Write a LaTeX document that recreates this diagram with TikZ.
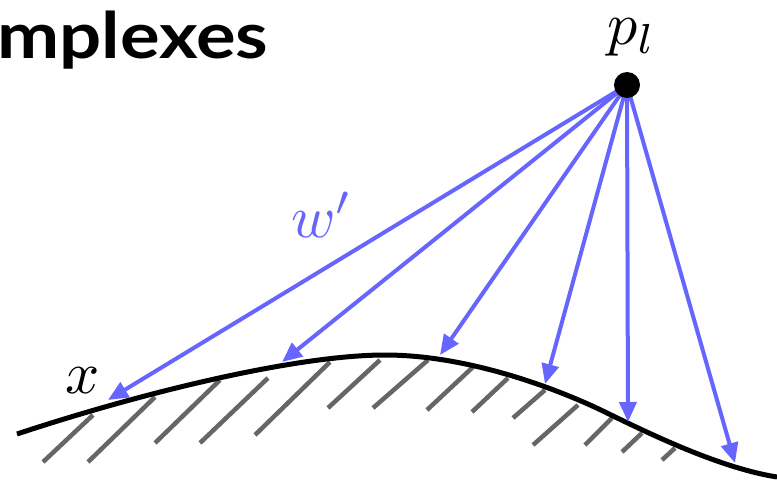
\documentclass[tikz,border=0pt]{standalone}
\usepackage{fontspec}
\newfontfamily\titlefont{Lato}
\usetikzlibrary{arrows.meta}
\definecolor{ablue}{HTML}{6666FF}
\definecolor{hgray}{HTML}{666666}
\tikzset{
  ray/.style={draw=ablue, line width=4pt, -{Triangle[length=20pt,width=17pt]}, shorten <=2pt},
  hatch/.style={draw=hgray, line width=4.5pt},
  surface/.style={draw=black, line width=5pt},
  lbl/.style={inner sep=0pt, scale=6, font=\fontsize{10}{10}\selectfont},
}
\begin{document}
\begin{tikzpicture}[x=1pt,y=-1pt]
\useasboundingbox (0,0) rectangle (777,480);
% title
\node[anchor=base west, inner sep=0pt, xscale=1.16, font=\titlefont\bfseries\fontsize{64}{64}\selectfont] (title) at (-3,58) {mplexes};
% hatching
\foreach \a/\b/\c/\d in {43/462/93/415, 88/462/155/397, 155/443/220/380, 200/443/268/378, 255/435/330/362, 328/408/380/360, 373/408/428/360, 427/410/473/367, 472/412/508/378, 513/418/545/390, 533/445/578/405, 585/445/612/418, 622/452/642/433, 662/460/675/448}
  \draw[hatch] (\a,\b) -- (\c,\d);
% surface
\draw[surface] (17,434) .. controls (150,390) and (300,355) .. (385,355)
  .. controls (470,355) and (560,390) .. (605,412)
  .. controls (650,434) and (720,468) .. (777,477);
% points
\coordinate (t1) at (108,400);
\coordinate (t2) at (282,362);
\coordinate (t3) at (440,355);
\coordinate (t4) at (545,384);
\coordinate (t5) at (628,422);
\coordinate (t6) at (735,463);
\coordinate (pc) at (627,85);
\foreach \t in {t1,t2,t3,t4,t5,t6}
  \draw[ray] (pc) -- (\t);
\node[circle, fill=black, minimum size=26pt, inner sep=0pt] (p) at (pc) {};
% labels
\node[lbl, anchor=base west] (pl) at (606,44) {$p_l$};
\node[lbl, anchor=base west, text=ablue] (w) at (290,237) {$w'$};
\node[lbl, anchor=base west] (x) at (64,393) {$x$};
\end{tikzpicture}
\end{document}
